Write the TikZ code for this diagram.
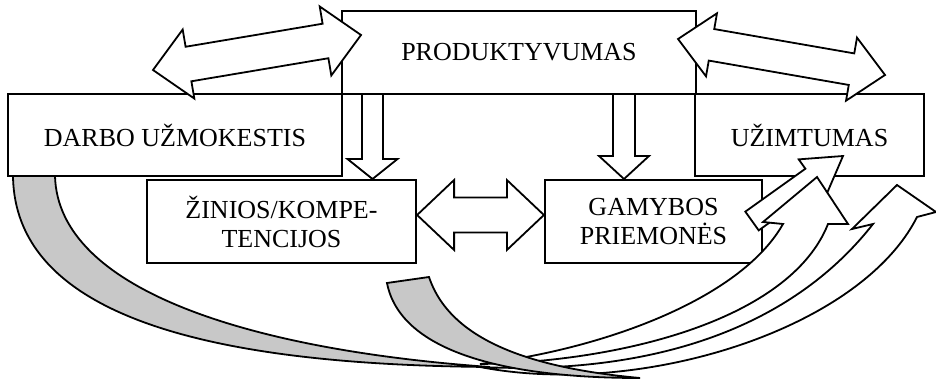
\documentclass[tikz,border=0pt]{standalone}
\usepackage{fontspec}
\setmainfont{Liberation Serif}
\usetikzlibrary{calc}
\definecolor{bandgray}{RGB}{200,200,200}
\tikzset{
  box/.style={draw, line width=2.2pt, fill=white, inner sep=0pt,
    font=\fontsize{26}{29}\selectfont, align=center},
  blk/.style={draw, line width=1.8pt, fill=white, line join=miter},
  band/.style={draw, line width=1.8pt, fill=bandgray},
  front/.style={draw, line width=1.8pt, fill=white},
}
% #1 tail, #2 tip, #3 shaft half width, #4 head half width, #5 head length
\newcommand\blkarrowone[5]{%
  \draw[blk] ($(#1)!#3pt!90:(#2)$) -- ($(#2)!#5pt!(#1)!#3pt!-90:(#1)$)
    -- ($(#2)!#5pt!(#1)!#4pt!-90:(#1)$) -- (#2)
    -- ($(#2)!#5pt!(#1)!#4pt!90:(#1)$) -- ($(#2)!#5pt!(#1)!#3pt!90:(#1)$)
    -- ($(#1)!#3pt!-90:(#2)$) -- cycle;}
\newcommand\blkarrowtwo[5]{%
  \draw[blk] (#1) -- ($(#1)!#5pt!(#2)!#4pt!90:(#2)$) -- ($(#1)!#5pt!(#2)!#3pt!90:(#2)$)
    -- ($(#2)!#5pt!(#1)!#3pt!-90:(#1)$) -- ($(#2)!#5pt!(#1)!#4pt!-90:(#1)$)
    -- (#2)
    -- ($(#2)!#5pt!(#1)!#4pt!90:(#1)$) -- ($(#2)!#5pt!(#1)!#3pt!90:(#1)$)
    -- ($(#1)!#5pt!(#2)!#3pt!-90:(#2)$) -- ($(#1)!#5pt!(#2)!#4pt!-90:(#2)$)
    -- cycle;}
\begin{document}
\begin{tikzpicture}[x=1pt, y=-1pt]
\useasboundingbox (0,0) rectangle (936,380);
% boxes
\node[box, minimum width=354pt, minimum height=83pt] (prod) at (519,52.5) {PRODUKTYVUMAS};
\node[box, minimum width=334pt, minimum height=82pt] (darbo) at (175,135) {DARBO UŽMOKESTIS};
\node[box, minimum width=229pt, minimum height=82pt] (uzim) at (809.5,135) {UŽIMTUMAS};
\node[box, minimum width=269pt, minimum height=83pt] (zin) at (281.5,221.5) {ŽINIOS/KOMPE-\\TENCIJOS};
\node[box, minimum width=217pt, minimum height=83pt] (gam) at (653.5,221.5) {GAMYBOS\\PRIEMONĖS};
% connector end points
\coordinate (tlA) at (153,70);   \coordinate (tlB) at (361,35);
\coordinate (trA) at (678,39);   \coordinate (trB) at (885,75);
\coordinate (hA) at ([yshift=6.5pt]zin.east);  \coordinate (hB) at ([yshift=6.5pt]gam.west);
\coordinate (d1A) at (372.5,94); \coordinate (d1B) at (372.5,179);
\coordinate (d2A) at (624,94);   \coordinate (d2B) at (624,179);
\coordinate (gA) at (752,221);   \coordinate (gB) at (843,156);
% straight block arrows
\blkarrowtwo{tlA}{tlB}{17.5}{35}{36}
\blkarrowtwo{trA}{trB}{16}{32}{34}
\blkarrowtwo{hA}{hB}{17.5}{35}{37}
\blkarrowone{d1A}{d1B}{10.5}{25}{20}
\blkarrowone{d2A}{d2B}{11}{25}{23}
\blkarrowone{gA}{gB}{11.5}{23}{38}
% curved arrow A (from DARBO UZMOKESTIS to UZIMTUMAS)
\draw[front] (480,367) .. controls (650,375) and (790,330) .. (873,224)
  -- (852,229) -- (897,185) -- (936,212) -- (917,217)
  .. controls (860,330) and (640,398) .. (480,367) -- cycle;
\draw[band] (13,176) .. controls (15,330) and (250,365) .. (490,367)
  .. controls (250,350) and (58,290) .. (55,176) -- cycle;
% curved arrow B
\draw[front] (480,364) .. controls (600,350) and (740,300) .. (783,224)
  -- (763,222) -- (817,177) -- (848,224) -- (828,224)
  .. controls (790,320) and (620,362) .. (480,364) -- cycle;
\draw[band] (387,283) .. controls (400,350) and (500,378) .. (640,378)
  .. controls (530,368) and (450,340) .. (429,277) -- cycle;
\end{tikzpicture}
\end{document}
